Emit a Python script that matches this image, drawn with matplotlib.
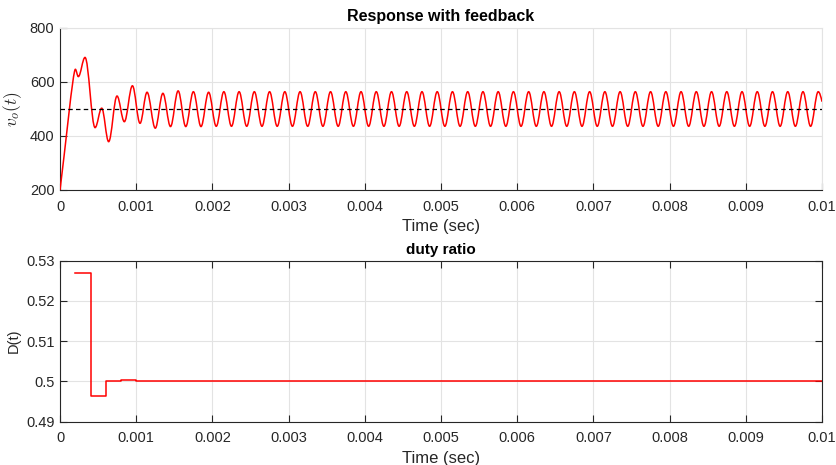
import matplotlib
matplotlib.use('Agg')
import matplotlib.pyplot as plt
from matplotlib.path import Path
from matplotlib.patches import PathPatch

# output voltage: turning points (time in s, volts)
vo_t = [0.0, 0.000201, 0.00024, 0.000328, 0.00046, 0.000547, 0.000638,
        0.000748, 0.000844, 0.00095, 0.00105, 0.001142, 0.00125, 0.00135,
        0.00145, 0.00155, 0.00165, 0.00175, 0.00185, 0.00195,
        0.00205, 0.00215, 0.00225, 0.00235, 0.00245, 0.00255, 0.00265, 0.00275, 0.00285, 0.00295,
        0.00305, 0.00315, 0.00325, 0.00335, 0.00345, 0.00355, 0.00365, 0.00375, 0.00385, 0.00395,
        0.00405, 0.00415, 0.00425, 0.00435, 0.00445, 0.00455, 0.00465, 0.00475, 0.00485, 0.00495,
        0.00505, 0.00515, 0.00525, 0.00535, 0.00545, 0.00555, 0.00565, 0.00575, 0.00585, 0.00595,
        0.00605, 0.00615, 0.00625, 0.00635, 0.00645, 0.00655, 0.00665, 0.00675, 0.00685, 0.00695,
        0.00705, 0.00715, 0.00725, 0.00735, 0.00745, 0.00755, 0.00765, 0.00775, 0.00785, 0.00795,
        0.00805, 0.00815, 0.00825, 0.00835, 0.00845, 0.00855, 0.00865, 0.00875, 0.00885, 0.00895,
        0.00905, 0.00915, 0.00925, 0.00935, 0.00945, 0.00955, 0.00965, 0.00975, 0.00985, 0.00995,
        0.01]
vo_v = [200, 647, 620, 691, 431, 503, 379,
        548, 453, 586, 447, 562, 429, 558,
        435, 567, 435, 564, 435, 562,
        436, 564, 436, 564, 436, 564, 436, 564, 436, 564,
        436, 564, 436, 564, 436, 564, 436, 564, 436, 564,
        436, 564, 436, 564, 436, 564, 436, 564, 436, 564,
        436, 564, 436, 564, 436, 564, 436, 564, 436, 564,
        436, 564, 436, 564, 436, 564, 436, 564, 436, 564,
        436, 564, 436, 564, 436, 564, 436, 564, 436, 564,
        436, 564, 436, 564, 436, 564, 436, 564, 436, 564,
        436, 564, 436, 564, 436, 564, 436, 564, 436, 564,
        527]
v_ref = 500

# duty ratio (sampled every 0.2 ms)
d_t = [0.0002, 0.0004, 0.0006, 0.0008, 0.001, 0.01]
d_v = [0.527, 0.4965, 0.5, 0.5004, 0.5, 0.5]

x_ticks = [0, 0.001, 0.002, 0.003, 0.004, 0.005, 0.006, 0.007, 0.008, 0.009, 0.01]
x_labels = ['0', '0.001', '0.002', '0.003', '0.004', '0.005', '0.006',
            '0.007', '0.008', '0.009', '0.01']

plt.rcParams['font.family'] = ['Liberation Sans', 'DejaVu Sans']
plt.rcParams['mathtext.fontset'] = 'cm'

dark = '#262626'
grid_c = '#e3e3e3'


def smooth_path(ts, vs, a=0.3634):
  """Bezier path through the turning points, flat tangent at each extremum."""
  verts = [(ts[0], vs[0])]
  codes = [Path.MOVETO]
  n = len(ts)
  for i in range(n - 1):
    t0, v0, t1, v1 = ts[i], vs[i], ts[i + 1], vs[i + 1]
    dt = t1 - t0
    if i == 0:
      # start of the ramp is not a turning point
      c1 = (t0 + dt / 3, v0 + (v1 - v0) / 3)
      c2 = (t1 - 0.15 * dt, v1)
    elif i == n - 2:
      c1 = (t0 + a * dt, v0)
      c2 = (t1 - 0.3 * dt, v1 + 0.5 * (v0 - v1))
    else:
      c1 = (t0 + a * dt, v0)
      c2 = (t1 - a * dt, v1)
    verts += [c1, c2, (t1, v1)]
    codes += [Path.CURVE4] * 3
  return Path(verts, codes)


def style(ax, box):
  ax.grid(True, color=grid_c, linewidth=0.8)
  ax.set_axisbelow(True)
  for s in ax.spines.values():
    s.set_color(dark)
    s.set_linewidth(0.8)
  if not box:
    ax.spines['top'].set_color(grid_c)
    ax.spines['right'].set_color(grid_c)
  ax.tick_params(direction='in', length=5, width=0.8, colors=dark,
                 labelsize=10.5, top=box, right=box)
  ax.tick_params(axis='x', pad=7)
  ax.tick_params(axis='y', pad=4)
  ax.set_xlim(0, 0.01)
  ax.set_xticks(x_ticks)
  ax.set_xticklabels(x_labels)


fig = plt.figure(figsize=(8.36, 4.65), dpi=100)

ax1 = fig.add_axes([0.0718, 0.5914, 0.9115, 0.3484])
style(ax1, box=False)
ax1.add_patch(PathPatch(smooth_path(vo_t, vo_v), fill=False,
                        edgecolor='#ff0000', linewidth=1.1, zorder=3))
ax1.axhline(v_ref, color='k', linestyle='--', dashes=(3.6, 2.6),
            linewidth=0.9, zorder=4)
ax1.set_ylim(200, 800)
ax1.set_yticks([200, 400, 600, 800])
ax1.set_xlabel('Time (sec)', fontsize=12, color=dark, labelpad=4)
ax1.set_ylabel('$v_o(t)$', fontsize=12.5, color=dark, labelpad=4)
ax1.set_title('Response with feedback', fontsize=11.5, fontweight='bold', pad=5)

ax2 = fig.add_axes([0.0718, 0.0931, 0.9115, 0.3462])
style(ax2, box=True)
ax2.plot(d_t, d_v, color='#ff0000', linewidth=1.1, drawstyle='steps-post')
ax2.set_ylim(0.49, 0.53)
ax2.set_yticks([0.49, 0.5, 0.51, 0.52, 0.53])
ax2.set_yticklabels(['0.49', '0.5', '0.51', '0.52', '0.53'])
ax2.set_xlabel('Time (sec)', fontsize=12, color=dark, labelpad=4)
ax2.set_ylabel('D(t)', fontsize=10.5, color=dark, labelpad=4)
ax2.set_title('duty ratio', fontsize=11, fontweight='bold', pad=5)

fig.savefig('out.png', dpi=100)
